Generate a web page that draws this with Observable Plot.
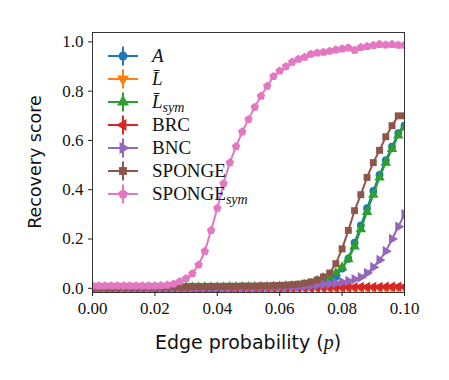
<!DOCTYPE html>
<html><head><meta charset="utf-8">
<script src="https://cdn.jsdelivr.net/npm/d3@7"></script>
<script src="https://cdn.jsdelivr.net/npm/@observablehq/plot@0.6"></script>
<style>body{margin:0;background:#fff}</style>
</head><body><div id="chart"></div>
<script>
// ---- data ----
const edgeProb = [0.000,0.002,0.004,0.006,0.008,0.010,0.012,0.014,0.016,0.018,
  0.020,0.022,0.024,0.026,0.028,0.030,0.032,0.034,0.036,0.038,
  0.040,0.042,0.044,0.046,0.048,0.050,0.052,0.054,0.056,0.058,
  0.060,0.062,0.064,0.066,0.068,0.070,0.072,0.074,0.076,0.078,
  0.080,0.082,0.084,0.086,0.088,0.090,0.092,0.094,0.096,0.098,0.100];

const seriesA = [0.003,0.003,0.003,0.003,0.003,0.003,0.003,0.003,0.003,0.003,
  0.003,0.003,0.003,0.003,0.004,0.004,0.004,0.004,0.004,0.004,
  0.004,0.004,0.005,0.005,0.005,0.005,0.005,0.006,0.006,0.006,
  0.007,0.008,0.009,0.010,0.012,0.015,0.020,0.026,0.035,0.048,
  0.080,0.120,0.185,0.255,0.325,0.395,0.460,0.520,0.575,0.630,0.660];

const seriesLbar = [0.001,0.001,0.001,0.001,0.001,0.001,0.001,0.001,0.001,0.001,
  0.001,0.001,0.001,0.001,0.001,0.001,0.001,0.001,0.001,0.001,
  0.001,0.001,0.001,0.001,0.001,0.001,0.001,0.001,0.001,0.001,
  0.001,0.001,0.001,0.001,0.001,0.001,0.001,0.002,0.002,0.002,
  0.002,0.002,0.002,0.002,0.002,0.002,0.002,0.002,0.003,0.003,0.003];

const seriesLsym = [0.003,0.003,0.003,0.003,0.003,0.003,0.003,0.003,0.003,0.003,
  0.003,0.003,0.003,0.003,0.004,0.004,0.004,0.004,0.004,0.004,
  0.004,0.004,0.005,0.005,0.005,0.005,0.005,0.006,0.006,0.006,
  0.007,0.008,0.009,0.010,0.013,0.018,0.030,0.042,0.050,0.062,
  0.085,0.118,0.170,0.240,0.310,0.380,0.450,0.510,0.565,0.620,0.655];

const seriesBRC = [0.001,0.001,0.001,0.001,0.001,0.001,0.001,0.001,0.001,0.001,
  0.001,0.001,0.001,0.001,0.001,0.001,0.001,0.001,0.001,0.001,
  0.001,0.001,0.001,0.001,0.001,0.001,0.001,0.001,0.001,0.001,
  0.001,0.001,0.002,0.002,0.002,0.002,0.003,0.003,0.003,0.003,
  0.004,0.004,0.004,0.005,0.005,0.005,0.005,0.006,0.006,0.006,0.006];

const seriesBNC = [0.002,0.002,0.002,0.002,0.002,0.002,0.002,0.002,0.002,0.002,
  0.002,0.002,0.002,0.002,0.002,0.002,0.002,0.002,0.002,0.002,
  0.002,0.002,0.003,0.003,0.003,0.003,0.003,0.003,0.004,0.004,
  0.004,0.005,0.005,0.006,0.008,0.010,0.013,0.016,0.019,0.022,
  0.026,0.030,0.037,0.045,0.062,0.085,0.115,0.150,0.200,0.250,0.300];

const seriesSPONGE = [0.004,0.004,0.004,0.004,0.004,0.005,0.005,0.005,0.005,0.005,
  0.005,0.006,0.006,0.006,0.006,0.006,0.007,0.007,0.007,0.007,
  0.008,0.008,0.008,0.008,0.009,0.009,0.009,0.010,0.010,0.011,
  0.012,0.013,0.015,0.017,0.021,0.026,0.034,0.046,0.062,0.100,
  0.160,0.235,0.315,0.380,0.450,0.510,0.560,0.615,0.660,0.700,0.700];

const seriesSPONGEsym = [0.010,0.010,0.010,0.010,0.010,0.010,0.010,0.010,0.010,0.010,
  0.010,0.011,0.013,0.018,0.028,0.040,0.060,0.095,0.150,0.235,
  0.325,0.425,0.510,0.575,0.635,0.685,0.735,0.780,0.820,0.860,
  0.882,0.900,0.918,0.930,0.938,0.950,0.955,0.958,0.962,0.968,
  0.972,0.976,0.966,0.978,0.982,0.986,0.990,0.988,0.990,0.987,0.987];

const seriesNames = ["A", "L\u0304", "L\u0304_sym", "BRC", "BNC", "SPONGE", "SPONGE_sym"];
const seriesColors = ["#1f77b4", "#ff7f0e", "#2ca02c", "#d62728", "#9467bd", "#8c564b", "#e377c2"];
const seriesValues = [seriesA, seriesLbar, seriesLsym, seriesBRC, seriesBNC, seriesSPONGE, seriesSPONGEsym];

const xTicks = [0, 0.02, 0.04, 0.06, 0.08, 0.10];
const xTickLabels = ["0.00", "0.02", "0.04", "0.06", "0.08", "0.10"];
const yTicks = [0, 0.2, 0.4, 0.6, 0.8, 1.0];
const yTickLabels = ["0.0", "0.2", "0.4", "0.6", "0.8", "1.0"];
const xLabel = ["Edge probability (", "p", ")"];
const yLabel = "Recovery score";

// ---- styling ----
const pentagon = {draw(ctx, size) {
  const r = Math.sqrt(size / (2.5 * Math.sin(2 * Math.PI / 5)));
  for (let i = 0; i < 5; i++) {
    const a = -Math.PI / 2 + i * 2 * Math.PI / 5;
    const x = r * Math.cos(a), y = r * Math.sin(a);
    i ? ctx.lineTo(x, y) : ctx.moveTo(x, y);
  }
  ctx.closePath();
}};
const markerStyles = [
  {symbol: d3.symbolCircle, rotate: 0},
  {symbol: d3.symbolTriangle, rotate: 180},
  {symbol: d3.symbolTriangle, rotate: 0},
  {symbol: d3.symbolTriangle, rotate: -90},
  {symbol: d3.symbolTriangle, rotate: 90},
  {symbol: d3.symbolSquare, rotate: 0},
  {symbol: pentagon, rotate: 0}
];
const R = 3.9;
const LW = 2;
const serifFont = "'Liberation Serif', 'DejaVu Serif', serif";
const sansFont = "'DejaVu Sans', sans-serif";

const tables = seriesValues.map((vals, k) => edgeProb.map((p, i) => ({p, v: vals[i], k})));

const marks = [];
tables.forEach((t, k) => {
  marks.push(Plot.line(t, {x: "p", y: "v", stroke: seriesColors[k], strokeWidth: LW, clip: true}));
  marks.push(Plot.dot(t, {x: "p", y: "v", fill: seriesColors[k], stroke: "none",
    symbol: markerStyles[k].symbol, rotate: markerStyles[k].rotate, r: R, clip: true}));
});

const plot = Plot.plot({
  width: 449, height: 380,
  marginLeft: 92, marginRight: 45, marginTop: 32, marginBottom: 88,
  style: {fontFamily: serifFont, fontSize: "17px", background: "white", color: "#111"},
  x: {domain: [0, 0.1]},
  y: {domain: [-0.017, 1.038]},
  marks: [
    ...marks,
    Plot.frame({stroke: "#222", strokeWidth: 0.9}),
    Plot.axisX({ticks: xTicks, tickFormat: d => xTickLabels[xTicks.indexOf(d)], tickSize: 4, tickPadding: 5,
      label: null, stroke: "#222", fontSize: 17}),
    Plot.axisY({ticks: yTicks, tickFormat: d => yTickLabels[yTicks.indexOf(d)], tickSize: 4, tickPadding: 5,
      label: null, stroke: "#222", fontSize: 17})
  ]
});

const svg = d3.select(plot);
// axis labels
const xl = svg.append("text").attr("x", 248).attr("y", 349).attr("text-anchor", "middle")
  .attr("font-family", sansFont).attr("font-size", 19).attr("fill", "#111");
xl.append("tspan").text(xLabel[0]);
xl.append("tspan").attr("font-family", serifFont).attr("font-style", "italic").attr("font-size", 20).text(xLabel[1]);
xl.append("tspan").text(xLabel[2]);
svg.append("text").attr("transform", "translate(41,162) rotate(-90)").attr("text-anchor", "middle")
  .attr("font-family", sansFont).attr("font-size", 17.5).attr("fill", "#111").text(yLabel);

// legend
const lg = svg.append("g").attr("text-anchor", "start");
seriesNames.forEach((name, k) => {
  const y = 56 + k * 23;
  const row = lg.append("g").attr("transform", `translate(0,${y})`);
  row.append("line").attr("x1", 108).attr("x2", 138).attr("y1", 0).attr("y2", 0)
    .attr("stroke", seriesColors[k]).attr("stroke-width", LW);
  row.append("line").attr("x1", 123).attr("x2", 123).attr("y1", -9.5).attr("y2", 9.5)
    .attr("stroke", seriesColors[k]).attr("stroke-width", LW);
  row.append("path").attr("d", d3.symbol(markerStyles[k].symbol, Math.PI * R * R * 1.3)())
    .attr("transform", `translate(123,0) rotate(${markerStyles[k].rotate})`).attr("fill", seriesColors[k]);
  const t = row.append("text").attr("x", 152).attr("y", 6).attr("text-anchor", "start")
    .attr("font-family", serifFont).attr("font-size", 19).attr("fill", "#111");
  const [base, sub] = name.split("_");
  const math = k < 3;
  t.append("tspan").attr("font-style", math ? "italic" : null).text(base);
  if (sub) t.append("tspan").attr("font-style", "italic").attr("font-size", 14).attr("dy", 4).text(sub);
});

document.getElementById("chart").appendChild(plot);
</script>
</body></html>
